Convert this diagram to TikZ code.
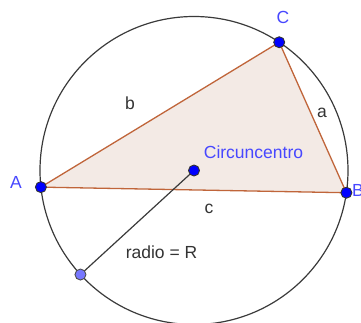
\documentclass[tikz,border=0pt]{standalone}
\usepackage{fontspec}
\setmainfont{Liberation Sans}
\usetikzlibrary{calc}
\definecolor{edgebrown}{HTML}{C0653A}
\definecolor{trifill}{HTML}{F3EAE5}
\definecolor{ptblue}{HTML}{0000FF}
\definecolor{ptlight}{HTML}{7777FF}
\definecolor{lblblue}{HTML}{4747FF}
\definecolor{lblgray}{HTML}{333333}
\definecolor{circgray}{HTML}{3A3A3A}
\tikzset{
  pt/.style={circle,draw=black!80,line width=0.9pt,fill=ptblue,inner sep=0pt,minimum size=11pt},
  ptl/.style={circle,draw=black!70,line width=0.9pt,fill=ptlight,inner sep=0pt,minimum size=11pt},
  bluelbl/.style={text=lblblue,font=\fontsize{17.5}{20}\selectfont,inner sep=0pt},
  graylbl/.style={text=lblgray,font=\fontsize{17.5}{20}\selectfont,inner sep=0pt},
  edge/.style={draw=edgebrown,line width=1.3pt},
}
\begin{document}
\begin{tikzpicture}[x=1pt,y=1pt]
\useasboundingbox (0,0) rectangle (361,322);
\coordinate (O) at (194,151.5);
\coordinate (Ap) at ($(O)+(186.2:154)$);
\coordinate (Bp) at ($(O)+(-8.3:154)$);
\coordinate (Cp) at ($(O)+(56.4:154)$);
\coordinate (Rp) at ($(O)+(222.5:154)$);
\fill[trifill] (Ap) -- (Cp) -- (Bp) -- cycle;
\draw[circgray,line width=1.2pt] (O) circle (154);
\draw[edge] (Ap) -- (Cp);
\draw[edge] (Cp) -- (Bp);
\draw[edge] (Ap) -- (Bp);
\draw[circgray,line width=1.2pt] (O) -- (Rp);
\node[pt] (A) at (Ap) {};
\node[pt] (B) at (Bp) {};
\node[pt] (C) at (Cp) {};
\node[pt] (O1) at (O) {};
\node[ptl] (R) at (Rp) {};
\node[bluelbl] (lA) at (16,140) {A};
\node[bluelbl,anchor=west] (lB) at (352,132) {B};
\node[bluelbl] (lC) at (283,305) {C};
\node[bluelbl] (lO) at (253.5,170) {Circuncentro};
\node[graylbl] (la) at (322,209) {a};
\node[graylbl] (lb) at (130,219) {b};
\node[graylbl] (lc) at (209,113) {c};
\node[graylbl] (lr) at (161.5,70) {radio = R};
\end{tikzpicture}
\end{document}
